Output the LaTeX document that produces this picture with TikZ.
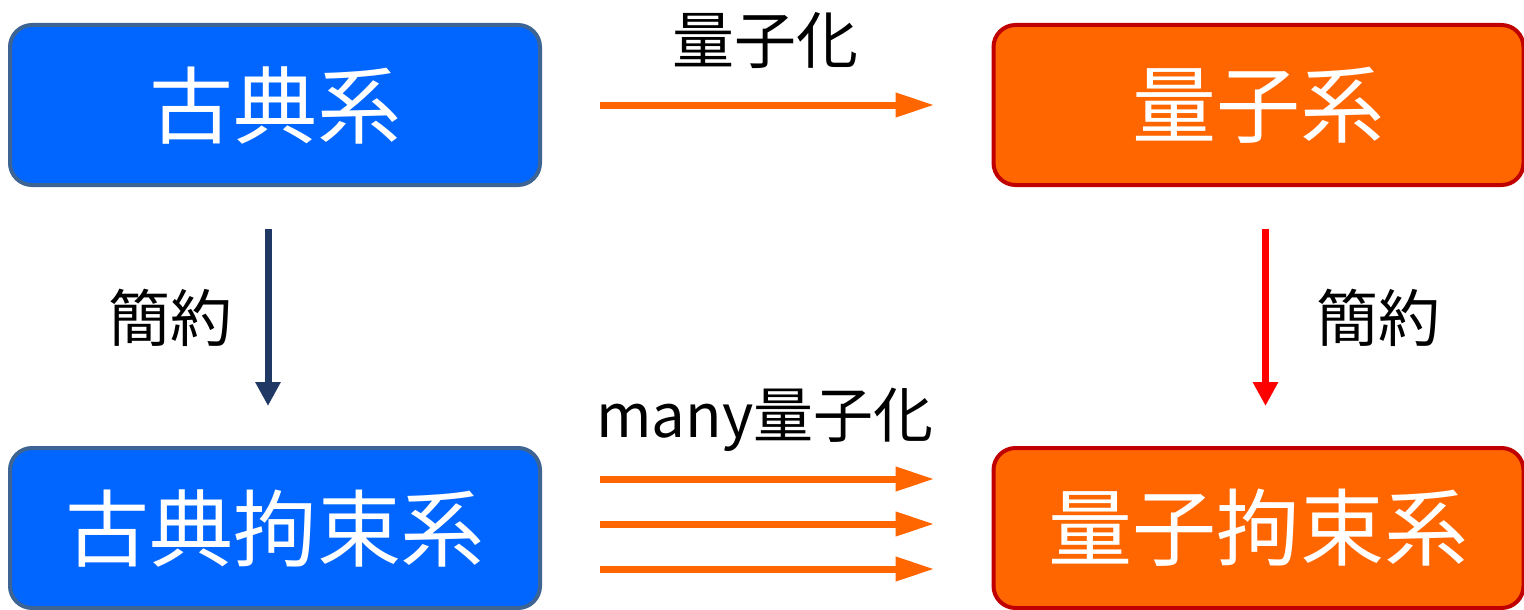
\documentclass[tikz,border=0pt]{standalone}
\usepackage{fontspec}
\setmainfont{Noto Sans CJK JP}
\usetikzlibrary{arrows.meta}
\definecolor{cblue}{HTML}{0066FF}
\definecolor{cblueb}{HTML}{3E6494}
\definecolor{corange}{HTML}{FF6600}
\definecolor{cred}{HTML}{C00000}
\definecolor{navy}{HTML}{1F3864}
\definecolor{bred}{HTML}{FF0000}
\tikzset{
  boxc/.style={draw=cblueb, fill=cblue, line width=4pt, rounded corners=22pt,
    minimum width=530pt, minimum height=160pt, text=white, inner sep=0pt,
    font=\fontsize{84}{84}\selectfont},
  boxq/.style={boxc, draw=cred, fill=corange},
  lbl/.style={inner sep=0pt, font=\fontsize{62}{62}\selectfont},
  harrow/.style={draw=corange, line width=7pt, -{Triangle[length=39pt,width=23pt]},
    shorten <=58pt, shorten >=57pt},
  varrow/.style={line width=7pt, -{Triangle[length=24pt,width=24pt]},
    shorten <=42pt, shorten >=40pt},
}
\begin{document}
\begin{tikzpicture}[x=1pt,y=-1pt]
\useasboundingbox (0,0) rectangle (1524,610);
\node[boxc] (A) at (275,105) {古典系};
\node[boxq] (B) at (1258.5,105) {量子系};
\node[boxc] (C) at (275,528) {古典拘束系};
\node[boxq] (D) at (1258.5,528) {量子拘束系};
\draw[harrow] (A.east) -- (B.west);
\node[lbl] (l1) at (765,40) {量子化};
\draw[varrow, draw=navy] ([xshift=-7pt]A.south) -- ([xshift=-7pt]C.north);
\node[lbl] (l2) at (170,318) {簡約};
\draw[varrow, draw=bred] ([xshift=7pt]B.south) -- ([xshift=7pt]D.north);
\node[lbl] (l3) at (1378,318) {簡約};
\node[lbl, font=\fontsize{60}{60}\selectfont] (l4) at (765,420) {many量子化};
\draw[harrow] ([yshift=49pt]C.east) -- ([yshift=49pt]D.west);
\draw[harrow] ([yshift=4pt]C.east) -- ([yshift=4pt]D.west);
\draw[harrow] ([yshift=-41pt]C.east) -- ([yshift=-41pt]D.west);
\end{tikzpicture}
\end{document}
